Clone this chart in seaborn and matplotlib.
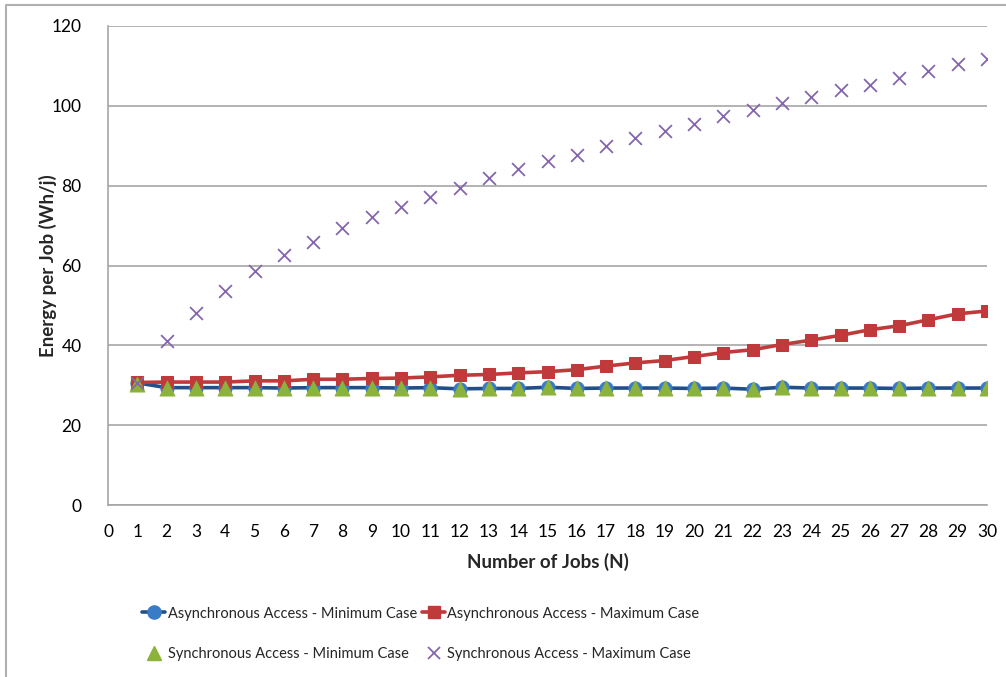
import matplotlib
matplotlib.use("Agg")
import matplotlib.pyplot as plt
from matplotlib.lines import Line2D
import pandas as pd
import seaborn as sns

# Data
jobs = list(range(1, 31))
async_min = [30.6, 29.4, 29.4, 29.4, 29.4, 29.3, 29.4, 29.4, 29.4, 29.3,
             29.4, 29.1, 29.2, 29.2, 29.5, 29.2, 29.3, 29.3, 29.3, 29.2,
             29.3, 29.0, 29.5, 29.3, 29.3, 29.3, 29.2, 29.3, 29.3, 29.3]
async_max = [30.7, 30.8, 30.8, 30.8, 31.1, 31.1, 31.5, 31.5, 31.7, 31.8,
             32.1, 32.5, 32.7, 33.1, 33.4, 33.9, 34.8, 35.6, 36.2, 37.2,
             38.2, 38.9, 40.2, 41.3, 42.5, 43.9, 44.9, 46.4, 47.9, 48.6]
sync_min = [30.4, 29.4, 29.4, 29.4, 29.4, 29.3, 29.4, 29.4, 29.4, 29.3,
            29.4, 29.1, 29.2, 29.2, 29.5, 29.2, 29.3, 29.3, 29.3, 29.2,
            29.3, 29.0, 29.5, 29.3, 29.3, 29.3, 29.2, 29.3, 29.3, 29.3]
sync_max = [30.6, 41.2, 48.2, 53.7, 58.5, 62.6, 66.0, 69.3, 72.1, 74.6,
            77.1, 79.5, 81.9, 84.2, 86.2, 87.8, 90.0, 91.9, 93.8, 95.4,
            97.4, 98.9, 100.8, 102.2, 104.0, 105.3, 106.9, 108.8, 110.4, 111.8]
labels = ["Asynchronous Access - Minimum Case", "Asynchronous Access - Maximum Case",
          "Synchronous Access - Minimum Case", "Synchronous Access - Maximum Case"]

df = pd.DataFrame({"N": jobs, "amin": async_min, "amax": async_max,
                   "smin": sync_min, "smax": sync_max})

sns.set_style("white")
plt.rcParams["font.family"] = ["Lato", "DejaVu Sans"]

blue_line, blue_mk = "#234F88", "#3A7BC8"
red = "#C0393B"
green = "#8BB23B"
purple = "#8466AE"

fig = plt.figure(figsize=(10.06, 6.77), dpi=100)
ax = fig.add_axes([108 / 1006, 1 - 505 / 677, (987 - 108) / 1006, (505 - 26) / 677])

sns.lineplot(data=df, x="N", y="amin", ax=ax, color=blue_line, lw=2.6,
             marker="o", markersize=9.5, markerfacecolor=blue_mk, markeredgecolor=blue_mk)
sns.lineplot(data=df, x="N", y="amax", ax=ax, color=red, lw=2.6,
             marker="s", markersize=8, markerfacecolor=red, markeredgecolor=red)
sns.scatterplot(data=df, x="N", y="smin", ax=ax, color=green, marker="^", s=120,
                edgecolor=green, linewidth=0.5, zorder=4)
sns.scatterplot(data=df, x="N", y="smax", ax=ax, color=purple, marker="x", s=85,
                linewidth=1.3, zorder=5)

ax.set_xlim(0, 30)
ax.set_ylim(0, 120)
ax.set_xticks(range(0, 31))
ax.set_yticks(range(0, 121, 20))
ax.grid(axis="y", color="#A6A6A6", lw=1.2)
ax.set_axisbelow(True)
for s in ["top", "right"]:
    ax.spines[s].set_visible(False)
for s in ["left", "bottom"]:
    ax.spines[s].set_color("#A6A6A6")
    ax.spines[s].set_linewidth(1.2)
ax.tick_params(axis="both", labelsize=12.5, length=0, colors="black")
ax.tick_params(axis="x", pad=14)
ax.tick_params(axis="y", pad=19)
ax.set_xlabel("Number of Jobs (N)", fontsize=13.5, fontweight="bold", labelpad=9)
ax.set_ylabel("Energy per Job (Wh/j)", fontsize=13.5, fontweight="bold", labelpad=-4)

handles = [
    Line2D([], [], color=blue_line, lw=2.6, marker="o", markersize=9.5,
           markerfacecolor=blue_mk, markeredgecolor=blue_mk),
    Line2D([], [], color=red, lw=2.6, marker="s", markersize=8,
           markerfacecolor=red, markeredgecolor=red),
    Line2D([], [], color=green, lw=0, marker="^", markersize=10),
    Line2D([], [], color=purple, lw=0, marker="x", markersize=9, markeredgewidth=1.3),
]
order = [0, 2, 1, 3]
fig.legend([handles[i] for i in order], [labels[i] for i in order], ncol=2,
           loc="center left", bbox_to_anchor=(142 / 1006, 1 - 634 / 677),
           frameon=False, fontsize=10.5, handlelength=1.6, handletextpad=0.15,
           columnspacing=0.35, labelspacing=1.85, borderpad=0, borderaxespad=0)

# outer chart frame (cut on right and bottom)
fig.add_artist(Line2D([6 / 1006, 6 / 1006, 1], [0, 1 - 5 / 677, 1 - 5 / 677],
                      color="#B0B0B0", lw=1.5, transform=fig.transFigure))

fig.savefig("out.png", dpi=100)
